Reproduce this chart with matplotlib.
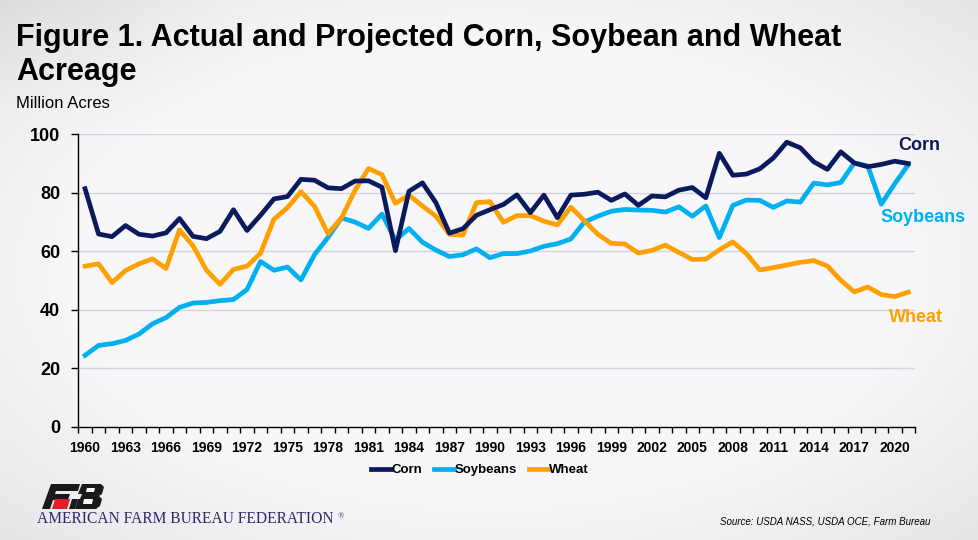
import numpy as np
import matplotlib
matplotlib.use("Agg")
import matplotlib.pyplot as plt
from matplotlib.patches import Polygon

# planted acreage, million acres (2021 projected)
years = list(range(1960, 2022))
corn = [81.4, 65.9, 65.0, 68.8, 65.8, 65.2, 66.3, 71.2, 65.1, 64.3,
        66.8, 74.2, 67.1, 72.3, 77.9, 78.7, 84.6, 84.3, 81.7, 81.4,
        84.0, 84.1, 81.9, 60.2, 80.5, 83.4, 76.6, 66.2, 67.7, 72.3,
        74.2, 76.0, 79.3, 73.2, 79.2, 71.5, 79.2, 79.5, 80.2, 77.4,
        79.6, 75.7, 78.9, 78.6, 80.9, 81.8, 78.3, 93.5, 86.0, 86.4,
        88.2, 91.9, 97.3, 95.4, 90.6, 88.0, 94.0, 90.2, 88.9, 89.7,
        90.8, 90.0]
soybeans = [24.4, 27.8, 28.4, 29.5, 31.7, 35.2, 37.3, 40.8, 42.3, 42.5,
            43.1, 43.5, 46.9, 56.5, 53.5, 54.6, 50.2, 58.8, 64.7, 71.4,
            70.0, 67.8, 72.7, 63.8, 67.8, 63.1, 60.4, 58.2, 58.8, 60.8,
            57.8, 59.2, 59.2, 60.1, 61.7, 62.6, 64.2, 70.0, 72.0, 73.7,
            74.3, 74.1, 74.0, 73.4, 75.2, 72.0, 75.5, 64.7, 75.7, 77.5,
            77.4, 75.0, 77.2, 76.8, 83.3, 82.7, 83.5, 90.2, 89.2, 76.1,
            83.1, 89.6]
wheat = [54.9, 55.7, 49.3, 53.4, 55.7, 57.4, 54.1, 67.3, 61.9, 53.5,
         48.7, 53.8, 54.9, 59.3, 71.0, 74.9, 80.4, 75.4, 66.0, 71.4,
         80.8, 88.3, 86.2, 76.4, 79.2, 75.5, 72.0, 65.8, 65.5, 76.6,
         77.0, 69.9, 72.2, 72.2, 70.3, 69.0, 75.1, 70.4, 65.8, 62.7,
         62.5, 59.4, 60.3, 62.1, 59.6, 57.2, 57.3, 60.5, 63.2, 59.2,
         53.6, 54.4, 55.3, 56.2, 56.8, 55.0, 50.1, 46.1, 47.8, 45.2,
         44.5, 46.0]
y_ticks = [0, 20, 40, 60, 80, 100]
x_labels = list(range(1960, 2022, 3))

NAVY = "#0b1a5c"
BLUE = "#00b0f0"
ORANGE = "#ffa000"

W, H = 979, 540
fig = plt.figure(figsize=(W / 100, H / 100), dpi=100)


def fx(px):
    return px / W


def fy(py):
    return 1 - py / H


# soft vignette background
bg = fig.add_axes([0, 0, 1, 1], zorder=-10)
gx, gy = np.meshgrid(np.linspace(-1, 1, 200), np.linspace(-1, 1, 120))
r = np.clip(np.sqrt((gx / 1.0) ** 2 + (gy / 1.0) ** 2) - 0.85, 0, None)
shade = 0.972 - 0.12 * r
shade[:25, :50] -= 0.04 * np.outer(np.linspace(1, 0, 25), np.linspace(1, 0, 50))
bg.imshow(np.dstack([shade, shade, shade + 0.01]).clip(0, 1),
          aspect="auto", extent=[0, 1, 0, 1], interpolation="bilinear")
bg.set_axis_off()

ax = fig.add_axes([fx(78.3), fy(426.7), fx(915) - fx(78.3), fy(134.3) - fy(426.7)])
ax.patch.set_alpha(0)

ax.plot(years, corn, color=NAVY, lw=3.4, label="Corn", solid_joinstyle="round", zorder=3)
ax.plot(years, soybeans, color=BLUE, lw=3.4, label="Soybeans", solid_joinstyle="round", zorder=2)
ax.plot(years, wheat, color=ORANGE, lw=3.4, label="Wheat", solid_joinstyle="round", zorder=2)

ax.set_xlim(1959.5, 2021.5)
ax.set_ylim(0, 100)
ax.set_yticks(y_ticks)
ax.set_xticks(x_labels)
ax.set_xticks(np.arange(1959.5, 2022, 1), minor=True)
ax.tick_params(axis="x", which="major", length=0, pad=10, labelsize=10)
ax.tick_params(axis="x", which="minor", length=4, width=1, color="black")
ax.tick_params(axis="y", length=5, width=1, pad=8, labelsize=13)
for lab in ax.get_xticklabels() + ax.get_yticklabels():
    lab.set_fontweight("bold")
    lab.set_family("Liberation Sans")

for v in y_ticks[1:]:
    ax.axhline(v, color="#d4d4d8", lw=1, zorder=1)
for s in ["top", "right"]:
    ax.spines[s].set_visible(False)
ax.spines["left"].set_linewidth(1)
ax.spines["bottom"].set_linewidth(1)

fig.legend(loc="center", bbox_to_anchor=(fx(480), fy(470)), ncol=3, frameon=False,
           handlelength=1.5, handletextpad=0.05, columnspacing=0.9,
           prop={"family": "Liberation Sans", "weight": "bold", "size": 9.5})

# title and axis caption
fig.text(fx(16), fy(46), "Figure 1. Actual and Projected Corn, Soybean and Wheat",
         fontsize=22, fontweight="bold", family="Liberation Sans", va="baseline")
fig.text(fx(16), fy(80), "Acreage",
         fontsize=22, fontweight="bold", family="Liberation Sans", va="baseline")
fig.text(fx(16), fy(103), "Million Acres", fontsize=12, family="Liberation Sans", va="center")

# series labels
fig.text(fx(919), fy(145), "Corn", color=NAVY, fontsize=13, fontweight="bold",
         family="Liberation Sans", ha="center", va="center")
fig.text(fx(923), fy(217), "Soybeans", color=BLUE, fontsize=13, fontweight="bold",
         family="Liberation Sans", ha="center", va="center")
fig.text(fx(916), fy(318), "Wheat", color=ORANGE, fontsize=13, fontweight="bold",
         family="Liberation Sans", ha="center", va="center")


# logo
def poly(pts, color):
    fig.patches.append(Polygon([(fx(a), fy(b)) for a, b in pts], closed=True,
                               transform=fig.transFigure, facecolor=color,
                               edgecolor="none"))


poly([(51, 484), (80, 484), (78, 491), (56, 491), (55, 494), (70, 494),
      (68, 500), (53, 500), (50, 509), (42, 509)], "#1a1a1a")
poly([(55, 499), (70, 499), (67, 509), (52, 509)], "#e21f26")
poly([(72, 499), (78, 499), (75, 509), (69, 509)], "#1a1a1a")
poly([(82, 484), (101, 484), (104, 487), (102, 494), (99, 496), (102, 499),
      (100, 506), (96, 509), (75, 509), (78, 499), (80, 499), (82, 494),
      (78, 494)], "#1a1a1a")
poly([(87, 488), (95, 488), (94, 492), (86, 492)], "#f6f6f9")
poly([(84, 499), (93, 499), (92, 504), (83, 504)], "#f6f6f9")

fig.text(fx(37), fy(519), "AMERICAN FARM BUREAU FEDERATION", color="#2a2c6c",
         fontsize=11.2, family="Liberation Serif", va="center")
fig.text(fx(338), fy(516), "\u00ae", color="#2a2c6c",
         fontsize=6, family="Liberation Serif", va="center")
fig.text(fx(930), fy(522), "Source: USDA NASS, USDA OCE, Farm Bureau",
         fontsize=7, style="italic", family="Liberation Sans",
         ha="right", va="center")

fig.savefig("out.png", dpi=100)
